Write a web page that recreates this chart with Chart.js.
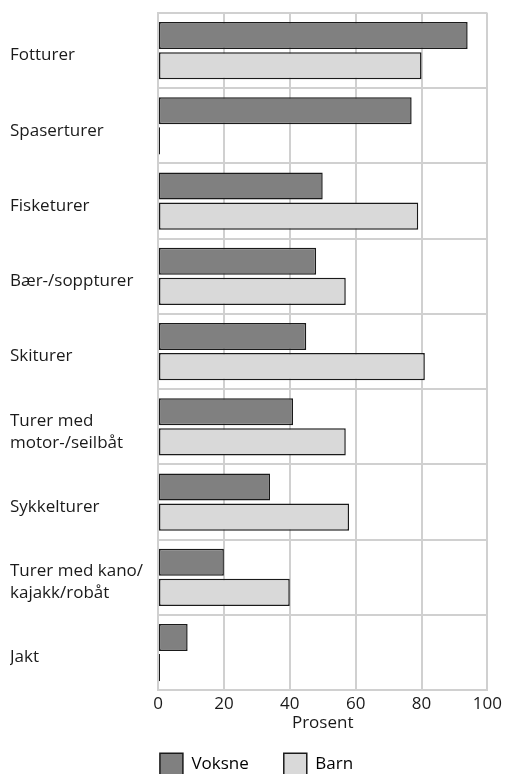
<!DOCTYPE html>
<html>
<head>
<meta charset="utf-8">
<script src="https://cdn.jsdelivr.net/npm/chart.js@4"></script>
<style>
html,body{margin:0;padding:0;background:#fff;overflow:hidden;}
canvas{display:block;}
</style>
</head>
<body>
<canvas id="c" width="506" height="800"></canvas>
<script>
const categories = ['Fotturer', 'Spaserturer', 'Fisketurer', 'Bær-/soppturer', 'Skiturer',
  ['Turer med', 'motor-/seilbåt'], 'Sykkelturer', ['Turer med kano/', 'kajakk/robåt'], 'Jakt'];
const voksne = [94, 77, 50, 48, 45, 41, 34, 20, 9];
const barn = [80, 0, 79, 57, 81, 57, 58, 40, 0];
const seriesNames = ['Voksne', 'Barn'];
const xTicks = [0, 20, 40, 60, 80, 100];

const FONT = "'Open Sans', sans-serif";
const gridColor = '#d0d0d0';
const LEGEND_PAD = 35;

// place the legend row: box top at a fixed offset below the plot
const legendPlace = {
  id: 'legendPlace',
  afterLayout(chart) {
    const lg = chart.legend;
    if (!lg) return;
    const h = lg.bottom - lg.top;
    const newTop = chart.chartArea.bottom + 63 - LEGEND_PAD;
    lg.top = newTop; lg.bottom = newTop + h;
    lg.left += 7; lg.right += 7;
  }
};

new Chart(document.getElementById('c'), {
  type: 'bar',
  data: {
    labels: categories,
    datasets: [
      { label: seriesNames[0], data: voksne, backgroundColor: '#808080', borderColor: '#1a1a1a', borderWidth: 1.5, borderSkipped: false, minBarLength: 2 },
      { label: seriesNames[1], data: barn, backgroundColor: '#d9d9d9', borderColor: '#1a1a1a', borderWidth: 1.5, borderSkipped: false, minBarLength: 2 }
    ]
  },
  plugins: [legendPlace],
  options: {
    indexAxis: 'y',
    responsive: false,
    animation: false,
    devicePixelRatio: 1,
    categoryPercentage: 0.8,
    barPercentage: 0.9,
    layout: { padding: { top: 13, right: 17, left: 10, bottom: 0 } },
    plugins: {
      tooltip: { enabled: false },
      legend: {
        position: 'bottom',
        labels: {
          font: { family: FONT, size: 17 },
          color: '#1a1a1a',
          boxWidth: 23,
          boxHeight: 22,
          padding: LEGEND_PAD,
          generateLabels(chart) {
            return chart.data.datasets.map((ds, i) => ({
              text: ds.label, fillStyle: ds.backgroundColor, strokeStyle: ds.borderColor,
              lineWidth: 1.5, datasetIndex: i, hidden: false
            }));
          }
        }
      }
    },
    scales: {
      x: {
        min: 0, max: 100,
        afterBuildTicks(scale) { scale.ticks = xTicks.map(v => ({ value: v })); },
        grid: { color: gridColor, lineWidth: 2, drawTicks: false },
        border: { color: gridColor, width: 2 },
        ticks: { font: { family: FONT, size: 17 }, color: '#1a1a1a', padding: 4 },
        title: { display: true, text: 'Prosent', font: { family: FONT, size: 17 }, color: '#1a1a1a', padding: { top: -6, bottom: 0 } }
      },
      y: {
        afterFit(scale) { scale.width = 148; },
        grid: { color: gridColor, lineWidth: 2, drawTicks: false, offset: true },
        border: { color: gridColor, width: 2 },
        ticks: { font: { family: FONT, size: 17, lineHeight: 1.28 }, color: '#1a1a1a', crossAlign: 'far', padding: 0, labelOffset: 5 }
      }
    }
  }
});
</script>
</body>
</html>
